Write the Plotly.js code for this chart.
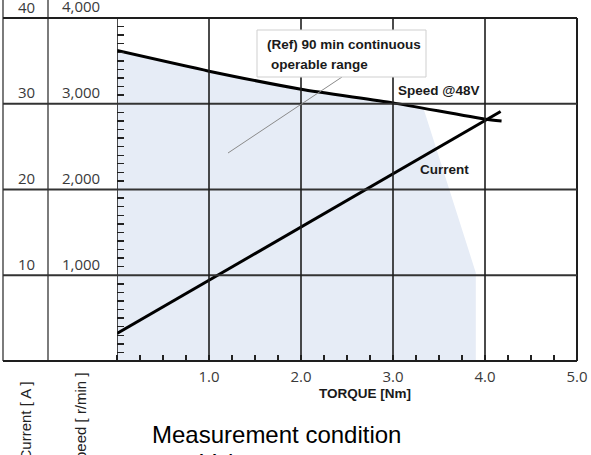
<!DOCTYPE html>
<html>
<head>
<meta charset="utf-8">
<script src="https://cdn.plot.ly/plotly-3.0.1.min.js"></script>
<style>
  html, body { margin: 0; padding: 0; background: #fff; }
  #chart { width: 591px; height: 455px; }
</style>
</head>
<body>
<div id="chart"></div>
<script>
// ---- data ----
const speedTorque = [0, 1, 2, 3, 4, 4.18];
const speedValues = [3620, 3380, 3170, 3010, 2820, 2800];   // r/min
const currentTorque = [0, 4.17];
const currentValues = [3.2, 29.1];                          // A
const rangeTorque = [0, 1, 2, 3, 3.33, 3.9, 3.9, 0];
const rangeSpeed = [3620, 3380, 3170, 3010, 2950, 1030, 0, 0]; // r/min
const torqueTicks = [1, 2, 3, 4, 5];
const torqueTickText = ['1.0', '2.0', '3.0', '4.0', '5.0'];
const currentTicks = [10, 20, 30, 40];
const currentTickText = ['10', '20', '30', '40'];
const speedTickText = ['1,000', '2,000', '3,000', '4,000'];

// ---- layout helpers (pixel -> paper) ----
const W = 591, H = 455, ML = 117, MR = 14, MT = 18, MB = 94;
const PW = W - ML - MR, PH = H - MT - MB;
const px = p => (p - ML) / PW;
const py = p => (H - MB - p) / PH;

const boldFont = { family: '"Liberation Sans", Arial, sans-serif', size: 13.5, color: '#1a1a1a', weight: 'bold' };
const tickFont = { family: '"Open Sans", "DejaVu Sans", sans-serif', size: 15, color: '#3a3a3a' };
const plainFont = { family: '"Liberation Sans", Arial, sans-serif', size: 15, color: '#222' };

const traces = [
  { x: rangeTorque, y: rangeSpeed, yaxis: 'y2', mode: 'lines', fill: 'toself',
    fillcolor: '#E6ECF6', line: { width: 0, color: 'rgba(0,0,0,0)' }, hoverinfo: 'skip' },
  { x: speedTorque, y: speedValues, yaxis: 'y2', mode: 'lines',
    line: { color: '#000', width: 3, shape: 'spline', smoothing: 0.6 } },
  { x: currentTorque, y: currentValues, yaxis: 'y3', mode: 'lines',
    line: { color: '#000', width: 3 } }
];

const shapes = [];
const lineCol = '#1e1e1e';
// left table columns
[3, 48].forEach(p => shapes.push({ type: 'line', xref: 'paper', yref: 'paper',
  x0: px(p), x1: px(p), y0: 0, y1: py(0), line: { color: '#444', width: 1.4 }, layer: 'above' }));
// y axis line and right border
shapes.push({ type: 'line', xref: 'x', yref: 'paper', x0: 0, x1: 0, y0: 0, y1: 1, line: { color: lineCol, width: 1.6 }, layer: 'above' });
shapes.push({ type: 'line', xref: 'paper', yref: 'paper', x0: 1, x1: 1, y0: 0, y1: 1, line: { color: lineCol, width: 2 }, layer: 'above' });
// top and bottom lines
shapes.push({ type: 'line', xref: 'paper', yref: 'paper', x0: px(3), x1: 1, y0: 1, y1: 1, line: { color: lineCol, width: 2 }, layer: 'above' });
shapes.push({ type: 'line', xref: 'paper', yref: 'paper', x0: px(3), x1: 1, y0: 0, y1: 0, line: { color: lineCol, width: 2 }, layer: 'above' });
// horizontal grid lines extended across the label columns
currentTicks.filter(v => v < 40).forEach(v => shapes.push({ type: 'line', xref: 'paper', yref: 'y',
  x0: px(3), x1: 1, y0: v, y1: v, line: { color: '#333', width: 2 }, layer: 'above' }));
// vertical grid lines
torqueTicks.filter(v => v < 5).forEach(v => shapes.push({ type: 'line', xref: 'x', yref: 'paper',
  x0: v, x1: v, y0: 0, y1: 1, line: { color: lineCol, width: 1.6 }, layer: 'above' }));
// leader line from the note box
shapes.push({ type: 'line', xref: 'paper', yref: 'paper', x0: px(228), y0: py(153), x1: px(342), y1: py(77),
  line: { color: '#8a8a8a', width: 1 }, layer: 'above' });
// note box
shapes.push({ type: 'rect', xref: 'paper', yref: 'paper', x0: px(257), x1: px(426), y0: py(77), y1: py(30),
  fillcolor: '#fff', line: { color: '#cfcfcf', width: 1 }, layer: 'above' });

const annotations = [];
currentTicks.forEach((v, i) => {
  annotations.push({ xref: 'paper', yref: 'y', x: px(26), y: v, yanchor: 'bottom', xanchor: 'center',
    text: currentTickText[i], showarrow: false, font: tickFont, yshift: -0.5 });
  annotations.push({ xref: 'paper', yref: 'y', x: px(81), y: v, yanchor: 'bottom', xanchor: 'center',
    text: speedTickText[i], showarrow: false, font: tickFont, yshift: -0.5 });
});
annotations.push({ xref: 'paper', yref: 'paper', x: px(265), y: py(44), xanchor: 'left', yanchor: 'middle',
  text: '(Ref) 90 min continuous', showarrow: false, font: boldFont });
annotations.push({ xref: 'paper', yref: 'paper', x: px(269), y: py(64.5), xanchor: 'left', yanchor: 'middle',
  text: 'operable range', showarrow: false, font: boldFont });
annotations.push({ xref: 'paper', yref: 'paper', x: px(438.5), y: py(91), xanchor: 'center', yanchor: 'middle',
  text: 'Speed @48V', showarrow: false, font: boldFont });
annotations.push({ xref: 'paper', yref: 'paper', x: px(444), y: py(169), xanchor: 'center', yanchor: 'middle',
  text: 'Current', showarrow: false, font: boldFont });
annotations.push({ xref: 'paper', yref: 'paper', x: px(364.5), y: py(393.5), xanchor: 'center', yanchor: 'middle',
  text: 'TORQUE [Nm]', showarrow: false, font: boldFont });
annotations.push({ xref: 'paper', yref: 'paper', x: px(25), y: py(380), xanchor: 'center', yanchor: 'top',
  text: 'Current [ A ]', textangle: -90, showarrow: false, font: plainFont });
annotations.push({ xref: 'paper', yref: 'paper', x: px(80), y: py(370), xanchor: 'center', yanchor: 'top',
  text: 'Speed [ r/min ]', textangle: -90, showarrow: false, font: plainFont });
annotations.push({ xref: 'paper', yref: 'paper', x: px(150), y: py(434.5), xanchor: 'left', yanchor: 'middle',
  text: 'Measurement condition', showarrow: false,
  font: { family: '"Liberation Sans", Arial, sans-serif', size: 24, color: '#000' } });
annotations.push({ xref: 'paper', yref: 'paper', x: px(198), y: py(462), xanchor: 'left', yanchor: 'middle',
  text: 'Voltage constant', showarrow: false,
  font: { family: '"Liberation Sans", Arial, sans-serif', size: 24, color: '#000' } });

const layout = {
  width: W, height: H,
  margin: { l: ML, r: MR, t: MT, b: MB, pad: 0 },
  paper_bgcolor: '#fff', plot_bgcolor: '#fff',
  showlegend: false,
  xaxis: {
    range: [0, 5], tickvals: torqueTicks, ticktext: torqueTickText,
    showgrid: false, zeroline: false, showline: false,
    ticks: '', tickfont: tickFont, ticklabelstandoff: 5,
    minor: { dtick: 0.25, tick0: 0, ticks: 'inside', ticklen: 6, tickwidth: 1.4, tickcolor: '#222', showgrid: false }
  },
  yaxis: {
    range: [0, 40], tickvals: currentTicks, showticklabels: false,
    showgrid: false, zeroline: false, showline: false, ticks: '',
    minor: { dtick: 1, tick0: 0, ticks: 'inside', ticklen: 7, tickwidth: 1.4, tickcolor: '#222', showgrid: false }
  },
  yaxis2: { range: [0, 4000], overlaying: 'y', side: 'left', visible: false },
  yaxis3: { range: [0, 40], overlaying: 'y', side: 'left', visible: false },
  shapes: shapes,
  annotations: annotations
};

Plotly.newPlot('chart', traces, layout, { displayModeBar: false, staticPlot: true });
</script>
</body>
</html>
